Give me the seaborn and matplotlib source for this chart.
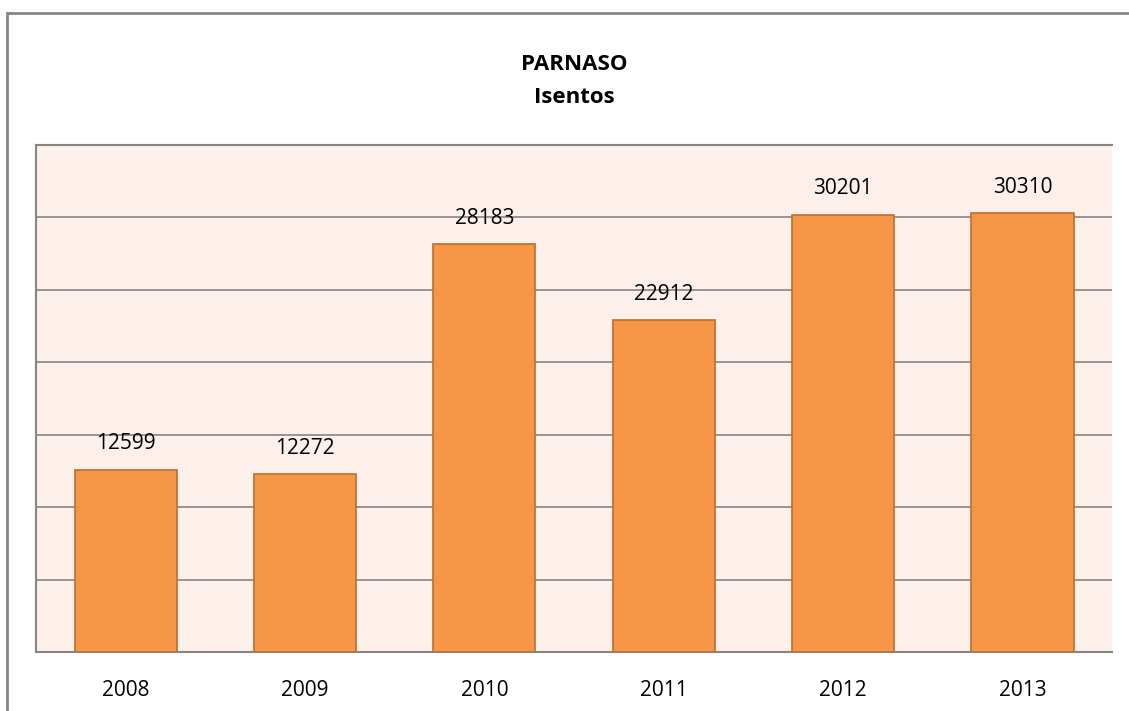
import matplotlib
matplotlib.use("Agg")
import matplotlib.pyplot as plt
import seaborn as sns
from matplotlib.patches import Rectangle

years = ["2008", "2009", "2010", "2011", "2012", "2013"]
isentos = [12599, 12272, 28183, 22912, 30201, 30310]

sns.set_style("white")
plt.rcParams['font.family'] = ['Open Sans', 'DejaVu Sans']
plt.rcParams['text.color'] = 'black'
plt.rcParams['xtick.color'] = 'black'

fig = plt.figure(figsize=(11.29, 7.11), dpi=100)
ax = fig.add_axes([0.0319, 0.083, 0.9531, 0.713])

sns.barplot(x=years, y=isentos, color='#F79646', saturation=1, width=0.57,
            edgecolor='#B7702F', linewidth=1.2, ax=ax, zorder=3)

ax.set_facecolor('#FDEFEA')
ax.set_ylim(0, 35000)
ax.set_xlim(-0.5, 5.5)
ax.set_yticks(range(0, 35001, 5000))
ax.set_yticklabels([])
ax.tick_params(axis='y', length=0)
ax.tick_params(axis='x', length=0, labelsize=15, labelcolor='black', pad=20)
ax.yaxis.grid(True, color='#868686', linewidth=1.2, zorder=0)
ax.set_axisbelow(True)
ax.set_xlabel('')
ax.set_ylabel('')

for side in ['left', 'top', 'bottom']:
    ax.spines[side].set_color('#868686')
    ax.spines[side].set_linewidth(1.5)
ax.spines['right'].set_visible(False)

for c in ax.containers:
    ax.bar_label(c, labels=[str(v) for v in isentos], padding=11,
                 fontsize=15, color='black')

ax.set_title('PARNASO\nIsentos', fontsize=16, fontweight='bold', pad=30,
             linespacing=1.8, color='black')

fig.patches.append(Rectangle((7 / 1129, -0.05), 1.1, 0.05 + 1 - 13 / 711,
                             transform=fig.transFigure, fill=False,
                             edgecolor='#868686', linewidth=2))

fig.savefig('out.png', dpi=100)
